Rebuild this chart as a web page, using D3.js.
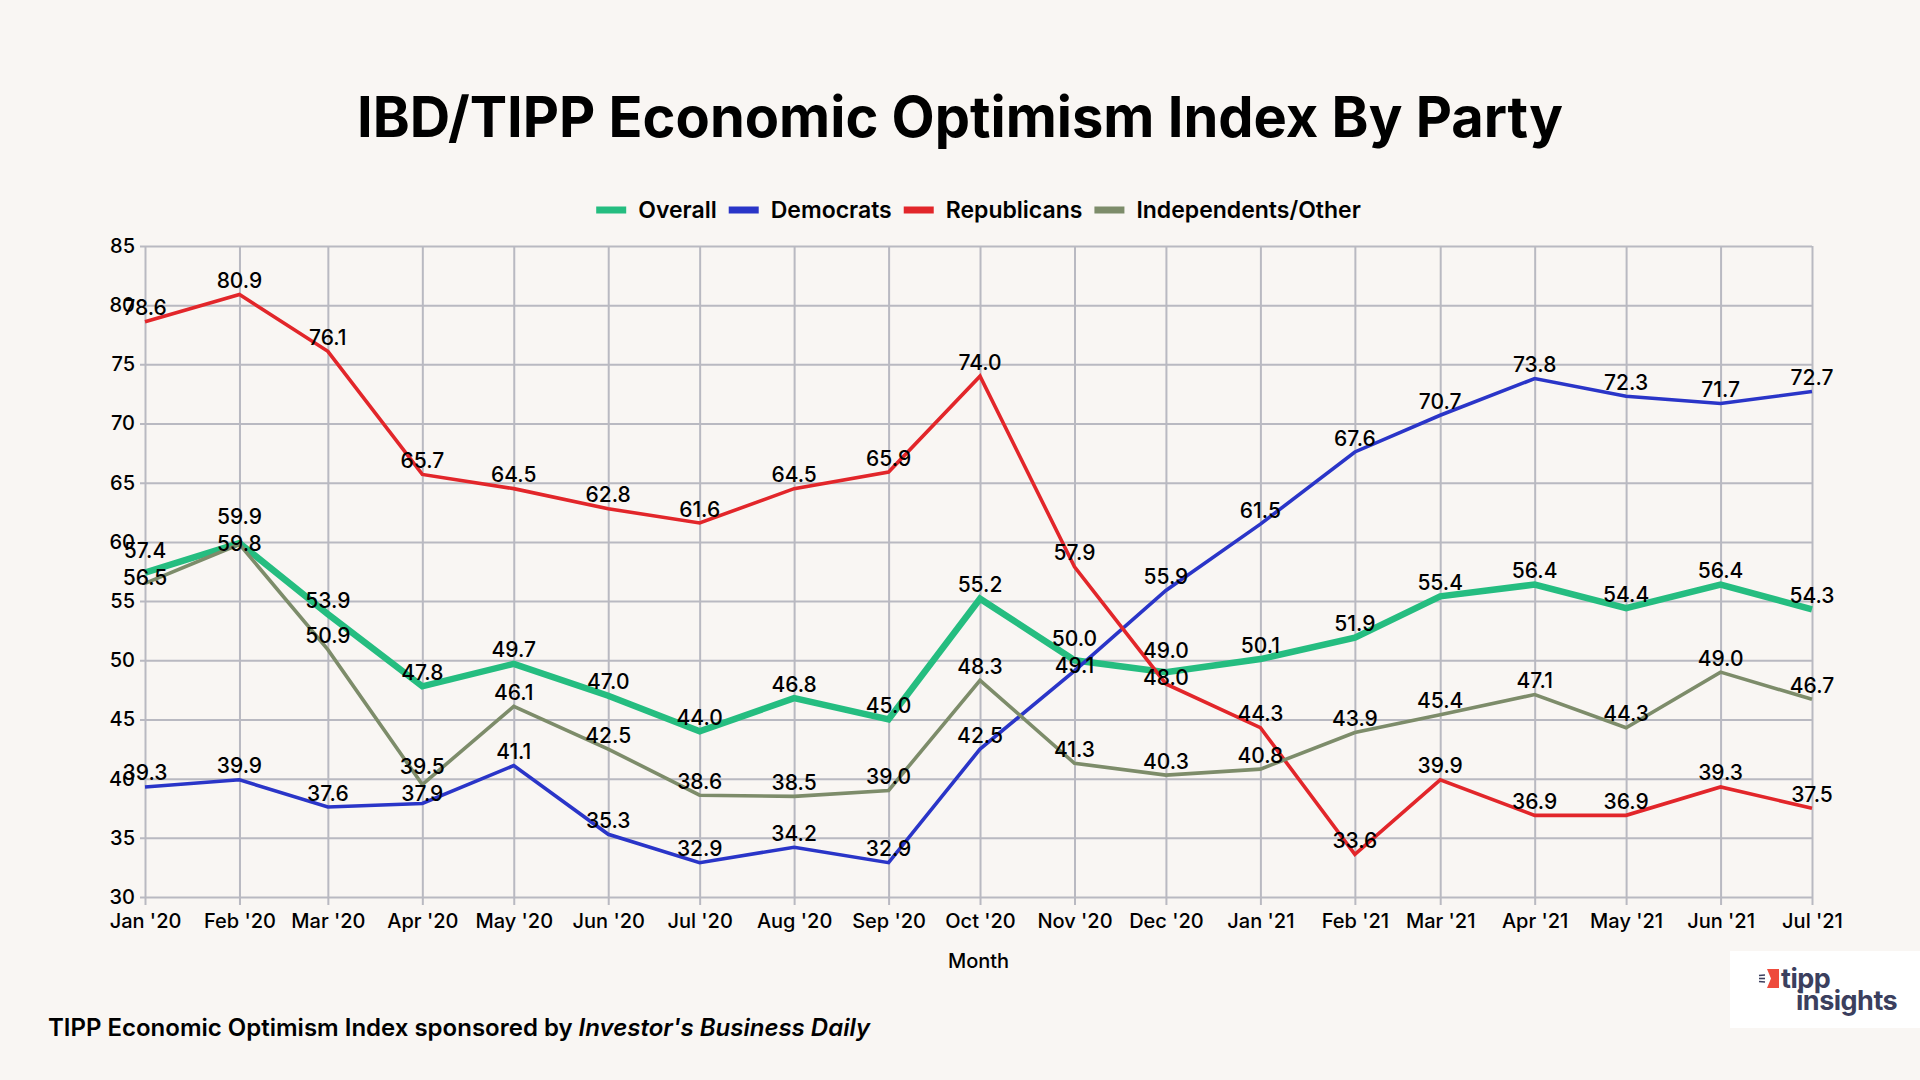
<!DOCTYPE html>
<html>
<head>
<meta charset="utf-8">
<script src="https://cdn.jsdelivr.net/npm/d3@7"></script>
<style>
  body { margin: 0; background: #f9f6f3; }
  svg { display: block; font-family: Inter, "Noto Sans", sans-serif; }
</style>
</head>
<body>
<div id="chart"></div>
<script>
// --- Data
const months = ["Jan '20", "Feb '20", "Mar '20", "Apr '20", "May '20", "Jun '20", "Jul '20",
  "Aug '20", "Sep '20", "Oct '20", "Nov '20", "Dec '20", "Jan '21", "Feb '21", "Mar '21",
  "Apr '21", "May '21", "Jun '21", "Jul '21"];
const overall = [57.4, 59.9, 53.9, 47.8, 49.7, 47.0, 44.0, 46.8, 45.0, 55.2, 50.0, 49.0, 50.1,
  51.9, 55.4, 56.4, 54.4, 56.4, 54.3];
const democrats = [39.3, 39.9, 37.6, 37.9, 41.1, 35.3, 32.9, 34.2, 32.9, 42.5, 49.1, 55.9, 61.5,
  67.6, 70.7, 73.8, 72.3, 71.7, 72.7];
const republicans = [78.6, 80.9, 76.1, 65.7, 64.5, 62.8, 61.6, 64.5, 65.9, 74.0, 57.9, 48.0, 44.3,
  33.6, 39.9, 36.9, 36.9, 39.3, 37.5];
const independents = [56.5, 59.8, 50.9, 39.5, 46.1, 42.5, 38.6, 38.5, 39.0, 48.3, 41.3, 40.3, 40.8,
  43.9, 45.4, 47.1, 44.3, 49.0, 46.7];
const seriesNames = ["Overall", "Democrats", "Republicans", "Independents/Other"];
const yTicks = [30, 35, 40, 45, 50, 55, 60, 65, 70, 75, 80, 85];

// --- Layout
const width = 1920, height = 1080;
const margin = { top: 246, right: 108, bottom: 183, left: 145 };
const colors = ["#25bd80", "#2a35c8", "#e2262a", "#7d8c6a"];
const widths = [6.5, 3.6, 3.6, 3.6];
const gridColor = "#b9b9c1";
const labelGap = 27;

const monthDates = months.map((m, i) => new Date(2020, i, 1));
const series = [overall, democrats, republicans, independents].map((values, i) => ({
  name: seriesNames[i], values: values, color: colors[i], width: widths[i]
}));

const svg = d3.select("#chart")
  .append("svg")
  .attr("width", width)
  .attr("height", height)
  .attr("viewBox", [0, 0, width, height]);

svg.append("rect")
  .attr("width", width)
  .attr("height", height)
  .attr("fill", "#f9f6f3");

const x = d3.scaleTime()
  .domain([monthDates[0], monthDates[monthDates.length - 1]])
  .range([margin.left, width - margin.right]);

const y = d3.scaleLinear()
  .domain([30, 85])
  .range([height - margin.bottom, margin.top]);

// title
svg.append("text")
  .attr("x", 960)
  .attr("y", 137)
  .attr("text-anchor", "middle")
  .attr("font-size", 56)
  .attr("font-weight", 700)
  .attr("fill", "#000")
  .text("IBD/TIPP Economic Optimism Index By Party");

// horizontal grid + left axis
svg.append("g")
  .attr("class", "axisLeft")
  .attr("transform", `translate(${margin.left}, 0)`)
  .call(d3.axisLeft(y)
    .tickValues(yTicks)
    .tickSize(-(width - margin.left - margin.right))
    .tickSizeOuter(0)
    .tickPadding(10)
  )
  .call(g => g.select(".domain").remove())
  .call(g => g.selectAll(".tick line")
    .attr("x1", -5)
    .attr("stroke", gridColor)
    .attr("stroke-width", 2))
  .call(g => g.selectAll(".tick text")
    .attr("font-size", 20)
    .attr("font-weight", 500)
    .attr("fill", "#000")
    .attr("font-family", "Inter, 'Noto Sans', sans-serif"));

// vertical grid + bottom axis
svg.append("g")
  .attr("class", "axisBottom")
  .attr("transform", `translate(0, ${height - margin.bottom})`)
  .call(d3.axisBottom(x)
    .tickValues(monthDates)
    .tickFormat((d, i) => months[i])
    .tickSize(-(height - margin.top - margin.bottom))
    .tickSizeOuter(0)
    .tickPadding(17)
  )
  .call(g => g.select(".domain").remove())
  .call(g => g.selectAll(".tick line")
    .attr("y1", 8)
    .attr("stroke", gridColor)
    .attr("stroke-width", 2))
  .call(g => g.selectAll(".tick text")
    .attr("font-size", 20)
    .attr("font-weight", 500)
    .attr("fill", "#000")
    .attr("font-family", "Inter, 'Noto Sans', sans-serif"));

svg.append("text")
  .attr("class", "xLabel")
  .attr("x", (margin.left + width - margin.right) / 2)
  .attr("y", 968)
  .attr("text-anchor", "middle")
  .attr("font-size", 20)
  .attr("font-weight", 500)
  .text("Month");

// lines
const line = d3.line()
  .x((d, i) => x(monthDates[i]))
  .y(d => y(d));

svg.append("g")
  .attr("class", "lines")
  .selectAll("path")
  .data(series)
  .join("path")
  .attr("d", d => line(d.values))
  .attr("fill", "none")
  .attr("stroke", d => d.color)
  .attr("stroke-width", d => d.width)
  .attr("stroke-linejoin", "miter");

// data labels: centre sits 14px above the point, then labels of the same
// month that come too close are pushed apart evenly
const labelDatas = [];
months.forEach((m, i) => {
  const group = series
    .map(s => ({ x: x(monthDates[i]), cy: y(s.values[i]) - 14, value: s.values[i] }))
    .sort((a, b) => a.cy - b.cy);
  for (let k = 1; k < group.length; k++) {
    const a = group[k - 1], b = group[k];
    if (b.cy - a.cy < labelGap) {
      const mid = (a.cy + b.cy) / 2;
      a.cy = mid - labelGap / 2;
      b.cy = mid + labelGap / 2;
    }
  }
  group.forEach(g => labelDatas.push(g));
});

svg.append("g")
  .attr("class", "labels")
  .selectAll("text")
  .data(labelDatas)
  .join("text")
  .attr("x", d => d.x)
  .attr("y", d => d.cy)
  .attr("dy", "0.36em")
  .attr("text-anchor", "middle")
  .attr("font-size", 21)
  .attr("font-weight", 500)
  .attr("fill", "#000")
  .text(d => d3.format(".1f")(d.value));

// legend
const legend = svg.append("g").attr("class", "legend");
const items = legend.selectAll("g")
  .data(series)
  .join("g");
items.append("rect")
  .attr("width", 30)
  .attr("height", 7)
  .attr("y", -3.5)
  .attr("fill", d => d.color);
items.append("text")
  .attr("x", 42)
  .attr("dy", "0.35em")
  .attr("font-size", 23)
  .attr("font-weight", 600)
  .text(d => d.name);
let offset = 0;
const offsets = [];
items.each(function () {
  offsets.push(offset);
  offset += 42 + this.querySelector("text").getComputedTextLength() + 12;
});
const legendWidth = offset - 12;
items.attr("transform", (d, i) => `translate(${offsets[i]}, 0)`);
legend.attr("transform", `translate(${(margin.left + width - margin.right) / 2 - legendWidth / 2}, 210)`);

// footer
const footer = svg.append("text")
  .attr("x", 48)
  .attr("y", 1036)
  .attr("font-size", 24)
  .attr("font-weight", 600);
footer.append("tspan").text("TIPP Economic Optimism Index sponsored by ");
footer.append("tspan").attr("font-style", "italic").text("Investor's Business Daily");

// logo
const logo = svg.append("g").attr("class", "logo");
logo.append("rect")
  .attr("x", 1730).attr("y", 951)
  .attr("width", 190).attr("height", 77)
  .attr("fill", "#ffffff");
logo.append("path")
  .attr("d", "M1767,969 L1779,969 L1779,988 L1767,988 L1771,978.5 Z")
  .attr("fill", "#ee4b3c");
logo.append("g")
  .selectAll("line")
  .data([-5, 0, 5])
  .join("line")
  .attr("x1", 1759).attr("x2", 1765)
  .attr("y1", d => 978.5 + d * 0.6).attr("y2", d => 978.5 + d * 0.7)
  .attr("stroke", "#3b3f5e")
  .attr("stroke-width", 1.6);
logo.append("text")
  .attr("x", 1781).attr("y", 988)
  .attr("font-size", 27)
  .attr("font-weight", 700)
  .attr("fill", "#3b3f5e")
  .attr("letter-spacing", -0.5)
  .text("tipp");
logo.append("text")
  .attr("x", 1796).attr("y", 1010)
  .attr("font-size", 27)
  .attr("font-weight", 700)
  .attr("fill", "#3b3f5e")
  .attr("letter-spacing", -0.5)
  .text("insights");
</script>
</body>
</html>
